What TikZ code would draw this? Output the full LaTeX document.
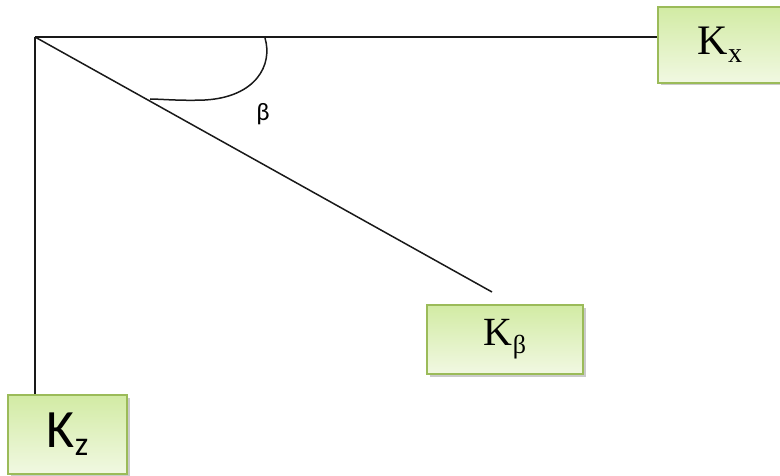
\documentclass[tikz,border=0pt]{standalone}
\usepackage{fontspec}
\setmainfont{Liberation Serif}
\newfontfamily\calib{Carlito}
\usetikzlibrary{shadows}
\definecolor{boxborder}{HTML}{9BBB59}
\definecolor{boxtop}{HTML}{D2EBA4}
\definecolor{boxbot}{HTML}{F1F8E2}
\tikzset{
  kbox/.style={draw=boxborder, line width=1.2pt, top color=boxtop, bottom color=boxbot,
    inner sep=0pt, drop shadow={shadow xshift=2.5pt, shadow yshift=-2.5pt, opacity=0.35, fill=black!60}},
  axis/.style={line width=1.5pt, draw=black!90}
}
\begin{document}
\begin{tikzpicture}[x=1pt,y=-1pt]
\useasboundingbox (0,0) rectangle (780,476);
\coordinate (O) at (35,37);
\coordinate (D) at (492,292);
\node[kbox, minimum width=124pt, minimum height=76pt] (kx) at (720,45)
  {\fontsize{42}{44}\selectfont K\raisebox{-0.18em}{\fontsize{28}{30}\selectfont x}};
\node[kbox, minimum width=156pt, minimum height=69pt] (kb) at (505,339.5)
  {\fontsize{40}{42}\selectfont K\raisebox{-0.2em}{\fontsize{26}{28}\selectfont β}};
\node[kbox, minimum width=119pt, minimum height=79pt] (kz) at (67.5,434.5)
  {\calib\fontsize{54}{56}\selectfont K\raisebox{-0.15em}{\fontsize{34}{36}\selectfont z}};
\draw[axis] (O) -- (O -| kx.west);
\draw[axis] (O) -- (O |- kz.north);
\draw[axis] (O) -- (D);
\draw[axis] (265,38) .. controls (273,65) and (256,97) .. (205,100)
  .. controls (180,101) and (160,99) .. (150,99);
\node[font=\calib\fontsize{25}{27}\selectfont] (beta) at (263,114) {β};
\end{tikzpicture}
\end{document}
